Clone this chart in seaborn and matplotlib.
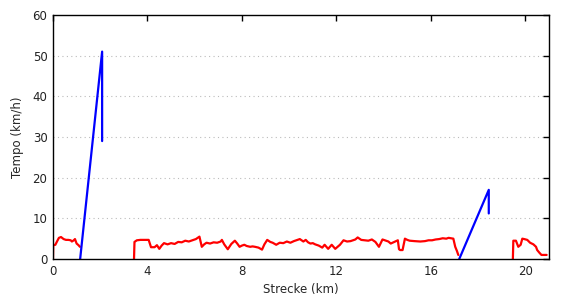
import numpy as np
import pandas as pd
import matplotlib
matplotlib.use("Agg")
import matplotlib.pyplot as plt
import seaborn as sns

# Red segments (distance km, speed km/h)
red1_km = [0.0, 0.01, 0.1, 0.16, 0.25, 0.34, 0.45, 0.55, 0.65, 0.75, 0.8, 0.88, 0.93, 1.0, 1.08, 1.14]
red1_v = [0.0, 3.4, 3.5, 4.2, 5.2, 5.4, 4.9, 4.7, 4.7, 4.6, 4.3, 4.6, 4.9, 3.8, 3.4, 3.0]

red2_km = [3.43, 3.45, 3.55, 3.7, 3.85, 4.0, 4.05, 4.15, 4.3, 4.4, 4.5, 4.6, 4.7, 4.85, 5.0, 5.15,
           5.3, 5.45, 5.6, 5.75, 5.9, 6.05, 6.2, 6.3, 6.4, 6.5, 6.65, 6.8, 6.95, 7.1, 7.15, 7.25,
           7.4, 7.55, 7.7, 7.8, 7.9, 8.0, 8.1, 8.2, 8.35, 8.45, 8.55, 8.7, 8.85, 8.95, 9.07, 9.2,
           9.3, 9.45, 9.6, 9.75, 9.9, 10.05, 10.2, 10.3, 10.45, 10.6, 10.7, 10.8, 10.9, 11.0, 11.1,
           11.25, 11.4, 11.5, 11.65, 11.8, 11.95, 12.05, 12.15, 12.3, 12.45, 12.6, 12.7, 12.8, 12.9,
           13.05, 13.2, 13.35, 13.5, 13.65, 13.8, 13.95, 14.1, 14.2, 14.3, 14.45, 14.6, 14.65, 14.7,
           14.8, 14.9, 15.0, 15.1, 15.3, 15.55, 15.75, 15.9, 16.05, 16.2, 16.35, 16.5, 16.65, 16.75,
           16.85, 16.95, 17.03, 17.1, 17.16]
red2_v = [0.0, 4.2, 4.6, 4.7, 4.7, 4.7, 4.7, 2.9, 2.9, 3.4, 2.5, 3.3, 3.9, 3.6, 3.9, 3.7,
          4.2, 4.1, 4.5, 4.3, 4.6, 4.9, 5.5, 3.0, 3.6, 4.0, 3.8, 4.1, 4.0, 4.3, 4.7, 3.6,
          2.4, 3.7, 4.5, 3.8, 3.0, 3.3, 3.5, 3.2, 3.0, 3.1, 3.0, 2.8, 2.3, 3.6, 4.7, 4.2,
          4.0, 3.5, 4.0, 3.9, 4.3, 4.0, 4.4, 4.6, 4.9, 4.3, 4.7, 4.1, 3.8, 3.9, 3.6,
          3.3, 2.8, 3.5, 2.5, 3.5, 2.5, 3.0, 3.5, 4.6, 4.3, 4.4, 4.6, 4.8, 5.3,
          4.7, 4.6, 4.5, 4.8, 4.2, 3.0, 4.8, 4.5, 4.3, 3.8, 4.2, 4.6, 2.4, 2.2,
          2.2, 5.0, 4.7, 4.5, 4.4, 4.3, 4.4, 4.6, 4.6, 4.8, 4.9, 5.1, 5.0, 5.2,
          5.1, 5.0, 3.0, 2.0, 1.0]

red3_km = [19.47, 19.49, 19.6, 19.7, 19.8, 19.87, 19.95, 20.08, 20.2, 20.34, 20.45, 20.5, 20.6, 20.68, 20.8, 20.9]
red3_v = [0.0, 4.5, 4.5, 3.0, 3.5, 5.0, 4.9, 4.7, 4.0, 3.6, 3.0, 2.2, 1.5, 1.0, 1.0, 1.0]

blue1_km = [1.15, 2.08, 2.08]
blue1_v = [0.0, 51.0, 29.0]
blue2_km = [17.2, 18.45, 18.45]
blue2_v = [0.0, 17.0, 11.2]

x_ticks = [0, 4, 8, 12, 16, 20]
y_ticks = [0, 10, 20, 30, 40, 50, 60]

frames = []
for i, (xs, vs, kind) in enumerate([(red1_km, red1_v, "red"), (red2_km, red2_v, "red"),
                                    (red3_km, red3_v, "red"), (blue1_km, blue1_v, "blue"),
                                    (blue2_km, blue2_v, "blue")]):
    frames.append(pd.DataFrame({"km": xs, "v": vs, "seg": i, "kind": kind,
                                "order": range(len(xs))}))
df = pd.concat(frames, ignore_index=True)

sns.set_style("white")
plt.rcParams['font.family'] = ['DejaVu Sans']

fig = plt.figure(figsize=(5.7, 3.0), dpi=100)
ax = fig.add_axes([53/570, 41/300, 496/570, 244/300])

sns.lineplot(data=df, x="km", y="v", hue="kind", units="seg", estimator=None, sort=False,
             palette={"red": "#ff0000", "blue": "#0000ff"}, linewidth=1.6, legend=False, ax=ax)

ax.set_xlim(0, 21)
ax.set_ylim(0, 60)
ax.set_xticks(x_ticks)
ax.set_yticks(y_ticks)
ax.set_xticklabels([str(t) for t in x_ticks])
ax.set_yticklabels([str(t) for t in y_ticks])
for yv in y_ticks[1:-1]:
    ax.axhline(yv, color="#bbbbbb", linestyle=(0, (1, 3)), linewidth=0.8, zorder=0)

ax.tick_params(direction="in", length=4, width=1, top=True, right=True,
               labelsize=8.5, labelcolor="#222222", color="black", pad=4)
for s in ax.spines.values():
    s.set_color("black")
    s.set_linewidth(1)
ax.set_xlabel("Strecke (km)", fontsize=8.5, labelpad=4)
ax.set_ylabel("Tempo (km/h)", fontsize=8.5, labelpad=6)

fig.savefig("out.png", dpi=100)
